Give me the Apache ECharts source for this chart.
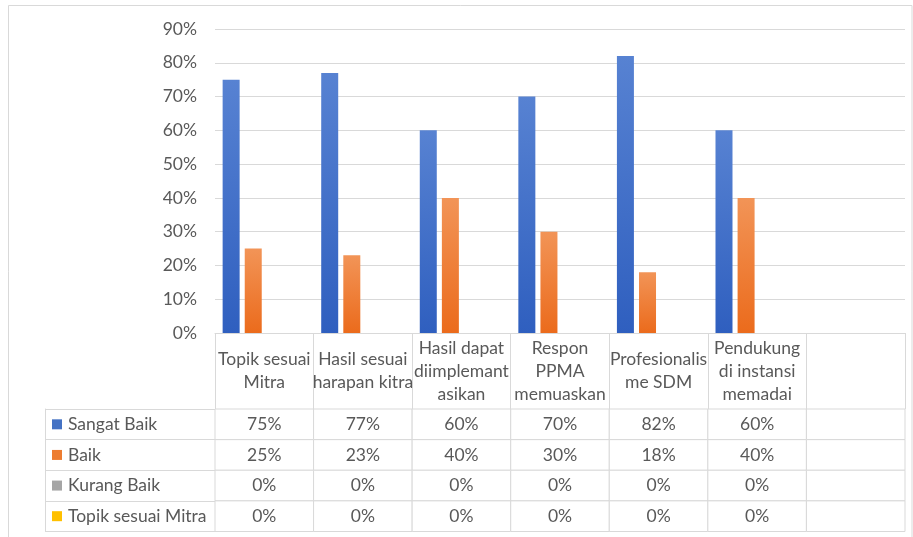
<!DOCTYPE html>
<html>
<head>
<meta charset="utf-8">
<script src="https://cdn.jsdelivr.net/npm/echarts@6/dist/echarts.min.js"></script>
<style>
html,body{margin:0;padding:0;background:#fff;}
#c{width:913px;height:537px;}
</style>
</head>
<body>
<div id="c"></div>
<script>
// ---- data ----
var categories = ['Topik sesuai\nMitra', 'Hasil sesuai\nharapan kitra', 'Hasil dapat\ndiimplemant\nasikan', 'Respon\nPPMA\nmemuaskan', 'Profesionalis\nme SDM', 'Pendukung\ndi instansi\nmemadai', ''];
var seriesNames = ['Sangat Baik', 'Baik', 'Kurang Baik', 'Topik sesuai Mitra'];
var sangatBaik = [75, 77, 60, 70, 82, 60];
var baik = [25, 23, 40, 30, 18, 40];
var kurangBaik = [0, 0, 0, 0, 0, 0];
var topikSesuaiMitra = [0, 0, 0, 0, 0, 0];
var yTicks = [0, 10, 20, 30, 40, 50, 60, 70, 80, 90];

// ---- styling ----
var FONT = 'Lato';
var TXT = '#595959';
var LINE = '#d9d9d9';
var colors = ['#4472C4', '#ED7D31', '#A5A5A5', '#FFC000'];
var gradients = [
  ['#5782d2', '#2f5fbf'],
  ['#f29457', '#eb6b1c'],
  ['#b5b5b5', '#959595'],
  ['#ffcc33', '#f0b400']
];
var allValues = [sangatBaik, baik, kurangBaik, topikSesuaiMitra];

var chart = echarts.init(document.getElementById('c'), null, {renderer: 'canvas'});

var barSeries = allValues.map(function (vals, i) {
  return {
    name: seriesNames[i],
    type: 'bar',
    xAxisIndex: 0,
    yAxisIndex: 0,
    barWidth: 17,
    barGap: '30%',
    data: vals,
    itemStyle: {
      color: new echarts.graphic.LinearGradient(0, 0, 0, 1, [
        {offset: 0, color: gradients[i][0]},
        {offset: 1, color: gradients[i][1]}
      ])
    }
  };
});

// table cells: [column, row]
var cellData = [];
var cellText = [];
for (var r = 0; r < seriesNames.length; r++) {
  for (var c = 0; c < categories.length; c++) {
    cellData.push([c, r]);
    var v = allValues[r][c];
    cellText.push(v === undefined || v === null ? '' : v + '%');
  }
}

var rich = {};
seriesNames.forEach(function (n, i) {
  rich['m' + i] = {width: 10, height: 10, backgroundColor: colors[i]};
});
rich.t = {fontFamily: FONT, fontSize: 17.5, color: TXT, padding: [0, 0, 0, 6]};

var option = {
  animation: false,
  backgroundColor: '#fff',
  grid: [
    {left: 215, right: 8, top: 29, bottom: 204},
    {left: 215, right: 8, top: 409, bottom: 5.5}
  ],
  graphic: [{
    type: 'rect',
    shape: {x: 8.5, y: 5.5, width: 903.5, height: 540},
    style: {fill: 'none', stroke: LINE, lineWidth: 1},
    silent: true
  }],
  xAxis: [
    {
      type: 'category', gridIndex: 0, data: categories,
      axisLine: {show: true, lineStyle: {color: LINE, width: 1}},
      axisTick: {show: true, length: 76, lineStyle: {color: LINE, width: 1}},
      axisLabel: {
        interval: 0, margin: 38, verticalAlign: 'middle', lineHeight: 23,
        fontFamily: FONT, fontSize: 17.5, color: TXT
      }
    },
    {
      type: 'category', gridIndex: 1, data: categories, show: false
    }
  ],
  yAxis: [
    {
      type: 'value', gridIndex: 0, min: 0, max: 90, interval: 10,
      axisLine: {show: false}, axisTick: {show: false},
      splitLine: {show: true, lineStyle: {color: LINE, width: 1}},
      axisLabel: {formatter: '{value}%', margin: 18, fontFamily: FONT, fontSize: 17.5, color: TXT}
    },
    {
      type: 'category', gridIndex: 1, data: seriesNames, inverse: true,
      axisLine: {show: false},
      axisTick: {show: true, length: 170, lineStyle: {color: LINE, width: 1}},
      splitLine: {show: false},
      axisLabel: {
        align: 'left', margin: 163,
        formatter: function (val, idx) { return '{m' + idx + '|}{t|' + val + '}'; },
        rich: rich
      }
    },
    {
      type: 'category', gridIndex: 1, data: seriesNames, inverse: true,
      position: 'left', offset: 170,
      axisLine: {show: true, lineStyle: {color: LINE, width: 1}},
      axisTick: {show: false}, axisLabel: {show: false}, splitLine: {show: false}
    }
  ],
  series: barSeries.concat([{
    type: 'custom',
    xAxisIndex: 1,
    yAxisIndex: 1,
    silent: true,
    data: cellData,
    renderItem: function (params, api) {
      var p = api.coord([api.value(0), api.value(1)]);
      var s = api.size([1, 1]);
      return {
        type: 'rect',
        shape: {x: p[0] - s[0] / 2, y: p[1] - s[1] / 2, width: s[0], height: s[1]},
        style: {fill: '#fff', stroke: LINE, lineWidth: 1},
        textContent: {
          style: {text: cellText[params.dataIndex], fill: TXT, fontFamily: FONT, fontSize: 17.5}
        },
        textConfig: {position: 'inside'}
      };
    }
  }])
};
chart.setOption(option);
</script>
</body>
</html>
